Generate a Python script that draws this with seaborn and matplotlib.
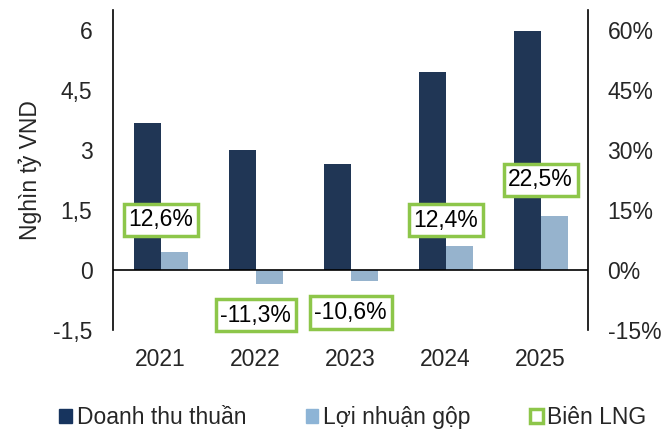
import matplotlib
matplotlib.use("Agg")
import matplotlib.pyplot as plt
from matplotlib.patches import Patch
import pandas as pd
import seaborn as sns

YEARS = ["2021", "2022", "2023", "2024", "2025"]
REVENUE = [3.67, 3.00, 2.65, 4.95, 5.98]
GROSS_PROFIT = [0.45, -0.34, -0.28, 0.61, 1.34]
MARGIN = [12.6, -11.3, -10.6, 12.4, 22.5]
MARGIN_LABELS = ["12,6%", "-11,3%", "-10,6%", "12,4%", "22,5%"]
LEFT_TICKS = [-1.5, 0, 1.5, 3, 4.5, 6]
LEFT_TICK_LABELS = ["-1,5", "0", "1,5", "3", "4,5", "6"]
RIGHT_TICKS = [-15, 0, 15, 30, 45, 60]
RIGHT_TICK_LABELS = ["-15%", "0%", "15%", "30%", "45%", "60%"]

NAVY = "#17345E"
LIGHT = "#8DB4D6"
GREEN = "#8DC64A"
FS = 16.5

sns.set_theme(style="white")
plt.rcParams["font.family"] = ["Liberation Sans", "DejaVu Sans"]
plt.rcParams["axes.unicode_minus"] = False

df = pd.DataFrame({
    "year": YEARS * 2,
    "value": REVENUE + GROSS_PROFIT,
    "series": ["Doanh thu thuần"] * 5 + ["Lợi nhuận gộp"] * 5,
})

fig = plt.figure(figsize=(6.66, 4.32), dpi=100)
ax = fig.add_axes([0.170, 0.236, 0.713, 0.741])
sns.barplot(
    data=df, x="year", y="value", hue="series",
    palette=[NAVY, LIGHT], width=0.57, gap=0, linewidth=0,
    legend=False, ax=ax,
)
ax.set_xlim(-0.5, 4.5)
ax.set_ylim(-1.5, 6.5)
ax.set_yticks(LEFT_TICKS)
ax.set_yticklabels(LEFT_TICK_LABELS, fontsize=FS)
ax.set_xticks(range(len(YEARS)))
ax.set_xticklabels(YEARS, fontsize=FS)
ax.tick_params(axis="x", length=0, pad=13)
ax.tick_params(axis="y", length=0, pad=15)
ax.set_xlabel("")
ax.set_ylabel("Nghìn tỷ VND", fontsize=FS, labelpad=8)
ax.axhline(0, color="black", linewidth=1.2)
for s in ["top", "bottom", "right"]:
    ax.spines[s].set_visible(False)
ax.spines["left"].set_color("black")
ax.spines["left"].set_linewidth(1.2)

ax2 = ax.twinx()
ax2.set_ylim(-15, 65)
ax2.set_yticks(RIGHT_TICKS)
ax2.set_yticklabels(RIGHT_TICK_LABELS, fontsize=FS)
ax2.tick_params(axis="y", length=0, pad=14)
for s in ["top", "bottom", "left"]:
    ax2.spines[s].set_visible(False)
ax2.spines["right"].set_color("black")
ax2.spines["right"].set_linewidth(1.2)
ax2.grid(False)

for i, (m, lbl) in enumerate(zip(MARGIN, MARGIN_LABELS)):
    ax2.text(
        i, m, lbl, ha="center", va="center", fontsize=FS, color="black",
        bbox={"boxstyle": "square,pad=0.2", "facecolor": "white",
              "edgecolor": GREEN, "linewidth": 2.5},
    )

handles = [
    Patch(facecolor=NAVY, edgecolor=NAVY, label="Doanh thu thuần"),
    Patch(facecolor=LIGHT, edgecolor=LIGHT, label="Lợi nhuận gộp"),
    Patch(facecolor="white", edgecolor=GREEN, linewidth=2.5, label="Biên LNG"),
]
fig.legend(
    handles=handles, loc="center", bbox_to_anchor=(0.53, 0.034), ncol=3,
    frameon=False, fontsize=FS, handlelength=0.55, handleheight=0.55,
    handletextpad=0.2, columnspacing=2.6, borderpad=0.2,
)

fig.savefig("out.png", dpi=100)
